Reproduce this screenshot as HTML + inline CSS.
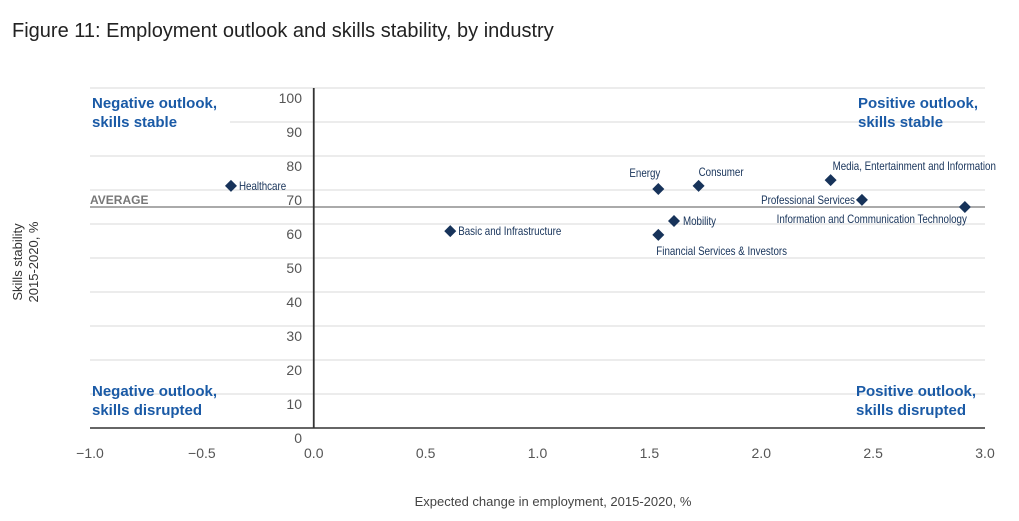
<!DOCTYPE html>
<html><head><meta charset="utf-8"><style>
body{margin:0;background:#fff;width:1019px;height:516px;overflow:hidden;font-family:"Liberation Sans",sans-serif}
</style></head><body>
<svg width="1019" height="516" id="c">
<text x="12" y="37" font-size="20" fill="#222">Figure 11: Employment outlook and skills stability, by industry</text>
<text x="553" y="506" font-size="13" fill="#444" text-anchor="middle">Expected change in employment, 2015-2020, %</text>
<text transform="translate(22,262) rotate(-90)" font-size="13" fill="#333" text-anchor="middle"><tspan x="0" dy="0">Skills stability</tspan><tspan x="0" dy="16">2015-2020, %</tspan></text>
<g id="grid"></g><g id="marks"></g>
<g font-size="15" font-weight="bold" fill="#1a5aa6">
<text x="92" y="108"><tspan x="92">Negative outlook,</tspan><tspan x="92" dy="19">skills stable</tspan></text>
<text x="858" y="108"><tspan x="858">Positive outlook,</tspan><tspan x="858" dy="19">skills stable</tspan></text>
<text x="92" y="396"><tspan x="92">Negative outlook,</tspan><tspan x="92" dy="19">skills disrupted</tspan></text>
<text x="856" y="396"><tspan x="856">Positive outlook,</tspan><tspan x="856" dy="19">skills disrupted</tspan></text>
</g>
</svg>
<script>
const names=["Healthcare","Basic and Infrastructure","Energy","Consumer","Mobility","Financial Services & Investors","Media, Entertainment and Information","Professional Services","Information and Communication Technology"];
const xVals=[-0.37,0.61,1.54,1.72,1.61,1.54,2.31,2.45,2.91];
const yVals=[71.2,57.9,70.3,71.2,60.9,56.8,72.9,67.1,65.0];
const yTicks=[0,10,20,30,40,50,60,70,80,90,100];
const xTicks=[-1,-0.5,0,0.5,1,1.5,2,2.5,3];
const xTickLabels=["\u22121.0","\u22120.5","0.0","0.5","1.0","1.5","2.0","2.5","3.0"];
const averageY=65;
const X=v=>90+(v+1)*223.75, Y=v=>428-v*3.4;
const NS="http://www.w3.org/2000/svg";
function mk(t,a,p){const e=document.createElementNS(NS,t);for(const k in a)e.setAttribute(k,a[k]);p.appendChild(e);return e;}
const g=document.getElementById('grid'),m=document.getElementById('marks');
yTicks.forEach(t=>{
 if(t>0){const l=mk('line',{x1:t===90?230:90,x2:985,y1:Y(t),y2:Y(t),stroke:'#d8d8d8','stroke-width':1},g);
 }
 const tx=mk('text',{x:302,y:Y(t)+15,'font-size':14,fill:'#555','text-anchor':'end'},g);tx.textContent=t;
 
});
const xa=mk('line',{x1:90,x2:985,y1:Y(0),y2:Y(0),stroke:'#333','stroke-width':1.5},g);

const av=mk('line',{x1:90,x2:985,y1:Y(averageY),y2:Y(averageY),stroke:'#777','stroke-width':1.2},g);

const at=mk('text',{x:90,y:Y(averageY)-3,'font-size':12,'font-weight':'bold',fill:'#777'},g);at.textContent='AVERAGE';

const ya=mk('line',{x1:X(0),x2:X(0),y1:Y(100),y2:Y(0),stroke:'#333','stroke-width':1.8},g);

xTicks.forEach((t,i)=>{const tx=mk('text',{x:X(t),y:458,'font-size':14,fill:'#555','text-anchor':'middle'},g);tx.textContent=xTickLabels[i];
 });
const lab=[[8,4,'start'],[8,4,'start'],[2,-12,'end'],[0,-10,'start'],[9,4,'start'],[-2,20,'start'],[2,-10,'start'],[-7,4,'end'],[2,16,'end']];
names.forEach((n,i)=>{const x=X(xVals[i]),y=Y(yVals[i]);
 const p=mk('polygon',{points:`${x},${y-6} ${x+6},${y} ${x},${y+6} ${x-6},${y}`,fill:'#17335a'},m);
 
 const t=mk('text',{x:x+lab[i][0],y:y+lab[i][1],'font-size':11.5,fill:'#17335a','text-anchor':lab[i][2],'transform':`translate(${x+lab[i][0]},0) scale(0.85,1) translate(${-(x+lab[i][0])},0)`},m);
 t.textContent=n;});
</script>
</body></html>
